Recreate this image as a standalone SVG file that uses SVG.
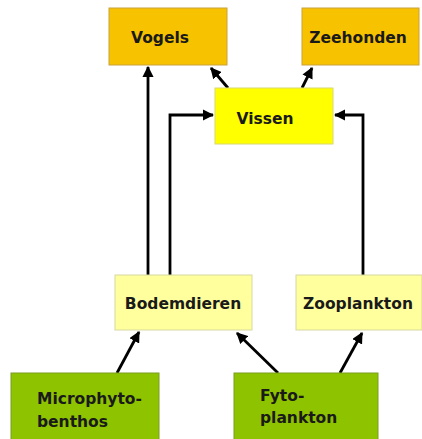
<svg xmlns="http://www.w3.org/2000/svg" width="422" height="439" viewBox="0 0 422 439">
<style>
.t{font-family:"DejaVu Sans",Verdana,sans-serif;font-weight:bold;font-size:15.5px;fill:#1a1a1a}
.c{fill:none;stroke:#000;stroke-width:2.8;marker-end:url(#ah)}
.or{fill:#F7C300;stroke:#C9A23A;stroke-width:1}
.ye{fill:#FFFF00;stroke:#D8D870;stroke-width:1}
.ly{fill:#FFFF9E;stroke:#D8D8A0;stroke-width:1}
.gr{fill:#8EC300;stroke:#7A9E20;stroke-width:1}
</style>
<defs>
<marker id="ah" viewBox="0 0 10 10" refX="9" refY="5" markerWidth="4" markerHeight="4" orient="auto" markerUnits="strokeWidth">
<path d="M0,0 L10,5 L0,10 z" fill="#000"/>
</marker>
</defs>
<rect width="422" height="439" fill="#fff"/>
<g id="connectors">
<path class="c" d="M148,275 V67"/>
<path class="c" d="M170,275 V115 H213"/>
<path class="c" d="M363,275 V115 H335"/>
<path class="c" d="M228,88 L211,68"/>
<path class="c" d="M302,88 L312,68"/>
<path class="c" d="M117,373 L139,332"/>
<path class="c" d="M278,373 L237,333"/>
<path class="c" d="M340,373 L362,333"/>
</g>
<g id="vogels">
<rect class="or" x="109" y="8" width="118" height="57"/>
<text class="t" x="160" y="43" text-anchor="middle">Vogels</text>
</g>
<g id="zeehonden">
<rect class="or" x="302" y="8" width="117" height="57"/>
<text class="t" x="358" y="43" text-anchor="middle">Zeehonden</text>
</g>
<g id="vissen">
<rect class="ye" x="215" y="88" width="118" height="56"/>
<text class="t" x="265" y="124" text-anchor="middle">Vissen</text>
</g>
<g id="bodemdieren">
<rect class="ly" x="115" y="275" width="137" height="55"/>
<text class="t" x="183" y="309" text-anchor="middle">Bodemdieren</text>
</g>
<g id="zooplankton">
<rect class="ly" x="296" y="275" width="126" height="55"/>
<text class="t" x="358" y="309" text-anchor="middle">Zooplankton</text>
</g>
<g id="microphytobenthos">
<rect class="gr" x="11" y="373" width="148" height="70"/>
<text class="t" x="37" y="404">Microphyto-</text>
<text class="t" x="37" y="427">benthos</text>
</g>
<g id="fytoplankton">
<rect class="gr" x="234" y="373" width="144" height="70"/>
<text class="t" x="260" y="401">Fyto-</text>
<text class="t" x="260" y="423">plankton</text>
</g>
</svg>
